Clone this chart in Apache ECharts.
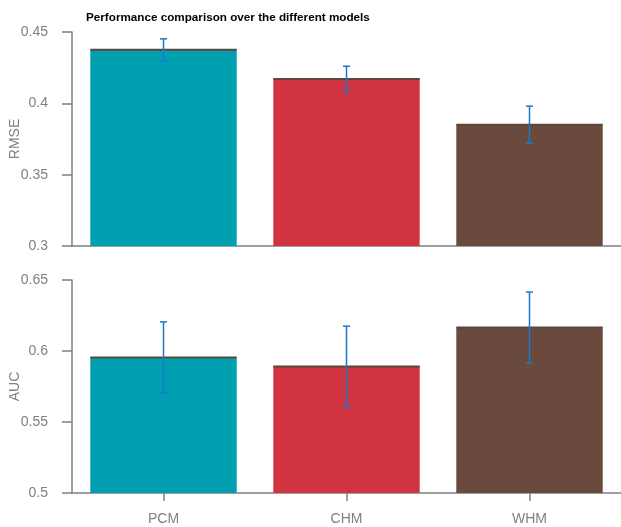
<!DOCTYPE html>
<html>
<head>
<meta charset="utf-8">
<script src="https://cdn.jsdelivr.net/npm/echarts@6/dist/echarts.min.js"></script>
<style>
  html, body { margin: 0; padding: 0; background: #fff; }
  #chart { width: 621px; height: 527px; }
</style>
</head>
<body>
<div id="chart"></div>
<script>
// Models compared
const models = ['PCM', 'CHM', 'WHM'];
const barColors = ['#00A0B0', '#CF3440', '#6A4A3C'];

// RMSE (mean and error half-width)
const rmseMean = [0.4375, 0.417, 0.385];
const rmseErr = [0.0077, 0.009, 0.013];

// AUC (mean and error half-width)
const aucMean = [0.5955, 0.589, 0.6165];
const aucErr = [0.025, 0.0285, 0.025];

const rmseTicks = { min: 0.3, max: 0.45, interval: 0.05 };
const aucTicks = { min: 0.5, max: 0.65, interval: 0.05 };

const gray = '#808080';
const font = 'Liberation Sans, Arial, Helvetica, sans-serif';

function barData(values) {
  return values.map((v, i) => ({ value: v, itemStyle: { color: barColors[i] } }));
}

// Dark top edge of each bar plus its error bar
function overlayRender(errs) {
  return function (params, api) {
    const idx = api.value(0);
    const mean = api.value(1);
    const err = errs[idx];
    const top = api.coord([idx, mean]);
    const hi = api.coord([idx, mean + err]);
    const lo = api.coord([idx, mean - err]);
    const w = api.size([1, 0])[0] * 0.8;
    const cap = 3.5;
    const line = { stroke: '#1B78CF', lineWidth: 1.5 };
    return {
      type: 'group',
      children: [
        { type: 'line', shape: { x1: top[0] - w / 2, y1: top[1], x2: top[0] + w / 2, y2: top[1] },
          style: { stroke: '#5A463A', lineWidth: 2 } },
        { type: 'line', shape: { x1: hi[0], y1: hi[1], x2: lo[0], y2: lo[1] }, style: line },
        { type: 'line', shape: { x1: hi[0] - cap, y1: hi[1], x2: hi[0] + cap, y2: hi[1] }, style: line },
        { type: 'line', shape: { x1: lo[0] - cap, y1: lo[1], x2: lo[0] + cap, y2: lo[1] }, style: line }
      ]
    };
  };
}

function yAxis(gridIndex, ticks, name) {
  return {
    type: 'value', gridIndex, min: ticks.min, max: ticks.max, interval: ticks.interval,
    name, nameLocation: 'middle', nameGap: 50, nameMoveOverlap: false,
    nameTextStyle: { color: gray, fontSize: 14, fontFamily: font },
    axisLine: { show: true, lineStyle: { color: gray, width: 1.5 } },
    axisTick: { show: true, length: 10, lineStyle: { color: gray, width: 1.5 } },
    axisLabel: { color: gray, fontSize: 14, fontFamily: font, margin: 24 },
    splitLine: { show: false }
  };
}

function xAxis(gridIndex, showLabels) {
  return {
    type: 'category', gridIndex, data: models,
    axisLine: { show: true, lineStyle: { color: gray, width: 1.5 } },
    axisTick: { show: showLabels, alignWithLabel: true, length: 8, lineStyle: { color: gray, width: 1.5 } },
    axisLabel: { show: showLabels, color: gray, fontSize: 14, fontFamily: font, margin: 19 }
  };
}

const chart = echarts.init(document.getElementById('chart'), null, { renderer: 'canvas' });
chart.setOption({
  animation: false,
  title: {
    text: 'Performance comparison over the different models',
    left: 81, top: 7,
    textStyle: { fontSize: 11.7, fontWeight: 'bold', color: '#000', fontFamily: font }
  },
  grid: [
    { left: 72, right: 0, top: 32, height: 214, containLabel: false, outerBoundsMode: 'none' },
    { left: 72, right: 0, top: 280, height: 213, containLabel: false, outerBoundsMode: 'none' }
  ],
  xAxis: [xAxis(0, false), xAxis(1, true)],
  yAxis: [yAxis(0, rmseTicks, 'RMSE'), yAxis(1, aucTicks, 'AUC')],
  series: [
    { type: 'bar', xAxisIndex: 0, yAxisIndex: 0, barWidth: '80%', data: barData(rmseMean) },
    { type: 'custom', xAxisIndex: 0, yAxisIndex: 0, z: 5,
      data: rmseMean.map((v, i) => [i, v]), renderItem: overlayRender(rmseErr) },
    { type: 'bar', xAxisIndex: 1, yAxisIndex: 1, barWidth: '80%', data: barData(aucMean) },
    { type: 'custom', xAxisIndex: 1, yAxisIndex: 1, z: 5,
      data: aucMean.map((v, i) => [i, v]), renderItem: overlayRender(aucErr) }
  ]
});
</script>
</body>
</html>
